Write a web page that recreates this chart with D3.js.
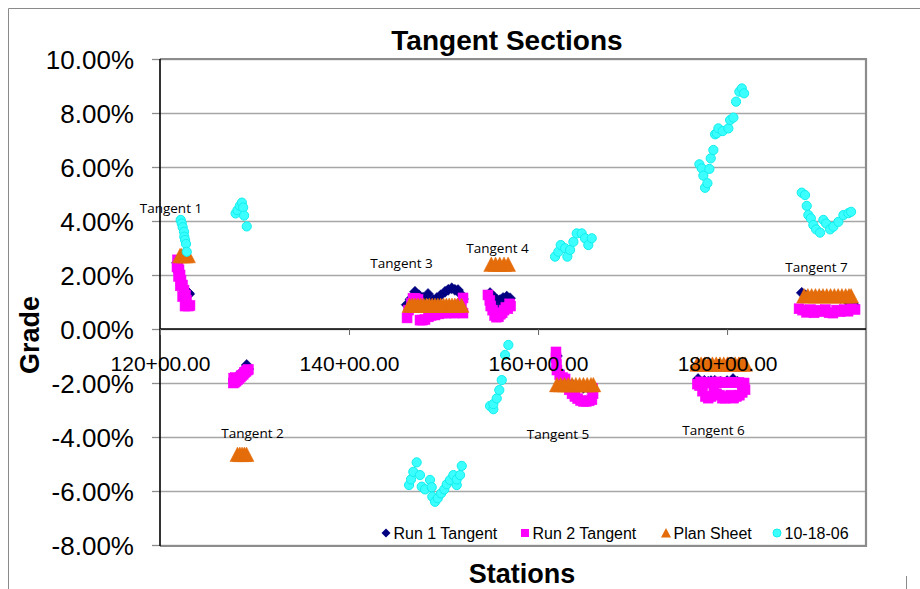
<!DOCTYPE html>
<html>
<head>
<meta charset="utf-8">
<script src="https://cdn.jsdelivr.net/npm/d3@7"></script>
<style>
  body { margin: 0; background: #fff; }
  svg { display: block; font-family: "Liberation Sans", Arial, sans-serif; }
</style>
</head>
<body>
<svg id="chart" width="920" height="589"></svg>
<script>
// ---- Data: station (ft) vs grade (%) ----
const xTickStations = [12000, 14000, 16000, 18000];
const yTickGrades = [-8, -6, -4, -2, 0, 2, 4, 6, 8, 10];
const seriesNames = ["Run 1 Tangent", "Run 2 Tangent", "Plan Sheet", "10-18-06"];

const run1Tangent = [
  [12180, 2.45], [12200, 2.10], [12225, 1.75], [12250, 1.50], [12275, 1.38], [12300, 1.34], [12310, 1.30],
  [12780, -1.85], [12820, -1.75], [12860, -1.62], [12895, -1.50], [12917, -1.33], [12935, -1.48],
  [14610, 0.90], [14650, 1.10], [14698, 1.38], [14740, 1.25], [14783, 1.16], [14836, 1.30], [14889, 1.07],
  [14930, 1.15], [14970, 1.25], [15016, 1.38], [15050, 1.45], [15087, 1.51], [15120, 1.45], [15153, 1.44],
  [15180, 1.30], [15206, 1.11],
  [15492, 1.33], [15520, 0.90], [15530, 1.20], [15560, 1.10], [15598, 1.07], [15600, 0.80], [15630, 1.15],
  [15669, 1.20], [15704, 1.14],
  [16200, -1.00], [16250, -1.75], [16300, -1.95], [16360, -2.05], [16420, -2.15], [16480, -2.18],
  [16540, -2.22], [16590, -2.26],
  [17693, -1.85], [17760, -1.92], [17800, -1.95], [17830, -1.93], [17870, -1.92], [17930, -1.95],
  [18000, -1.93], [18063, -1.85], [18110, -1.95], [18159, -2.07],
  [18790, 1.34], [18830, 1.25], [18900, 1.20], [19000, 1.20], [19100, 1.20], [19200, 1.15], [19280, 1.00],
  [19318, 0.78], [19340, 0.90]
];

const run2Tangent = [
  [12185, 2.56], [12190, 2.37], [12201, 2.19], [12212, 2.00], [12222, 1.81], [12238, 1.63], [12254, 1.44],
  [12270, 1.26], [12280, 1.07], [12286, 0.89], [12300, 0.85], [12317, 0.87], [12265, 0.85], [12180, 2.30],
  [12196, 1.95], [12215, 1.60], [12240, 1.20],
  [12775, -2.00], [12790, -1.97], [12805, -1.93], [12820, -1.88], [12835, -1.83], [12850, -1.78],
  [12865, -1.72], [12880, -1.68], [12895, -1.62], [12910, -1.57], [12925, -1.52], [12935, -1.50],
  [12780, -1.82], [12800, -1.80],
  [14614, 0.41], [14630, 0.70], [14660, 0.95], [14677, 1.14], [14700, 1.14], [14730, 1.10], [14751, 0.33],
  [14780, 0.33], [14804, 0.35], [14840, 0.45], [14870, 0.50], [14910, 0.52], [14950, 0.56], [14990, 0.59],
  [15030, 0.59], [15070, 0.60], [15110, 0.59], [15150, 0.60], [15180, 0.62], [15206, 0.59], [15206, 1.15],
  [15190, 0.90],
  [15470, 1.26], [15490, 1.05], [15500, 0.85], [15520, 0.70], [15540, 0.50], [15560, 0.44], [15580, 0.45],
  [15600, 0.55], [15620, 0.60], [15640, 0.70], [15660, 0.80], [15680, 0.75], [15700, 0.93], [15710, 0.85],
  [16190, -0.85], [16190, -1.07], [16195, -1.30], [16200, -1.52], [16230, -1.70], [16260, -1.80],
  [16286, -1.85], [16300, -2.10], [16330, -2.25], [16360, -2.40], [16390, -2.50], [16420, -2.58],
  [16450, -2.65], [16480, -2.68], [16510, -2.68], [16540, -2.66], [16570, -2.62], [16582, -2.40], [16578, -2.20],
  [17685, -2.04], [17710, -2.10], [17720, -1.96], [17740, -2.30], [17750, -1.98], [17770, -2.50],
  [17785, -1.98], [17800, -2.56], [17815, -2.00], [17830, -2.50], [17850, -1.98], [17860, -2.35],
  [17885, -1.99], [17890, -2.40], [17900, -1.96], [17920, -2.45], [17945, -1.98], [17950, -2.56],
  [17980, -2.56], [17985, -1.99], [18010, -2.50], [18020, -1.97], [18040, -2.45], [18050, -1.98],
  [18070, -2.56], [18090, -1.99], [18100, -2.50], [18125, -1.98], [18130, -2.45], [18160, -2.35],
  [18160, -2.02], [18180, -2.00], [18190, -2.25],
  [18762, 0.75], [18800, 0.70], [18840, 0.62], [18880, 0.72], [18920, 0.60], [18960, 0.70], [19000, 0.64],
  [19040, 0.72], [19080, 0.60], [19120, 0.59], [19160, 0.70], [19200, 0.64], [19240, 0.72], [19280, 0.66],
  [19320, 0.75], [19354, 0.72]
];

const planSheet = [
  [12212, 2.71], [12230, 2.71], [12250, 2.71], [12270, 2.71], [12296, 2.71],
  [12820, -4.65], [12845, -4.65], [12868, -4.65], [12892, -4.65], [12915, -4.65],
  [14640, 0.87], [14670, 0.87], [14700, 0.87], [14730, 0.87], [14760, 0.87], [14790, 0.87], [14820, 0.87],
  [14850, 0.87], [14880, 0.87], [14910, 0.87], [14940, 0.87], [14970, 0.87], [15000, 0.87], [15030, 0.87],
  [15060, 0.87], [15090, 0.87], [15120, 0.87], [15150, 0.87], [15190, 0.87],
  [15505, 2.39], [15550, 2.39], [15595, 2.39], [15640, 2.39], [15683, 2.39],
  [16200, -2.07], [16240, -2.07], [16280, -2.07], [16320, -2.07], [16360, -2.07], [16400, -2.07],
  [16440, -2.07], [16480, -2.07], [16520, -2.07], [16560, -2.07], [16585, -2.07],
  [17685, -1.31], [17725, -1.31], [17765, -1.31], [17805, -1.31], [17845, -1.31], [17885, -1.31],
  [17925, -1.31], [17965, -1.31], [18005, -1.31], [18045, -1.31], [18085, -1.31], [18125, -1.31],
  [18165, -1.31], [18190, -1.31],
  [18815, 1.22], [18855, 1.22], [18895, 1.22], [18935, 1.22], [18975, 1.22], [19015, 1.22], [19055, 1.22],
  [19095, 1.22], [19135, 1.22], [19175, 1.22], [19215, 1.22], [19255, 1.22], [19290, 1.22], [19312, 1.22]
];

const survey101806 = [
  [12219, 4.04], [12230, 3.91], [12240, 3.77], [12254, 3.60], [12257, 3.42], [12265, 3.30], [12275, 3.15],
  [12283, 2.86],
  [12800, 4.28], [12820, 4.40], [12845, 4.56], [12866, 4.68], [12880, 4.50], [12890, 4.20], [12918, 3.80],
  [14635, -5.78], [14656, -5.57], [14680, -5.29], [14716, -4.94], [14751, -5.41], [14769, -5.84],
  [14804, -5.94], [14857, -5.59], [14875, -5.86], [14881, -6.21], [14910, -6.40], [14939, -6.27],
  [14974, -6.09], [15008, -5.94], [15034, -5.75], [15069, -5.59], [15104, -5.41], [15140, -5.78],
  [15140, -5.57], [15175, -5.41], [15193, -5.07],
  [15492, -2.85], [15527, -2.97], [15527, -2.78], [15563, -2.57], [15590, -2.26], [15616, -1.89],
  [15651, -0.96], [15686, -0.59],
  [16180, 2.68], [16215, 2.86], [16240, 3.11], [16286, 2.99], [16310, 2.68], [16339, 2.93], [16374, 3.23],
  [16409, 3.54], [16462, 3.54], [16497, 3.36], [16532, 3.11], [16568, 3.36],
  [17707, 6.10], [17732, 5.95], [17749, 5.68], [17767, 5.23], [17792, 5.40], [17813, 5.93], [17827, 6.32],
  [17855, 6.63], [17873, 7.21], [17891, 7.25], [17908, 7.43], [17954, 7.33], [18014, 7.43], [18032, 7.74],
  [18067, 7.83], [18095, 8.42], [18130, 8.79], [18156, 8.91], [18180, 8.73],
  [18790, 5.05], [18825, 4.96], [18843, 4.56], [18860, 4.22], [18886, 4.10], [18913, 3.85], [18942, 3.69],
  [18984, 3.57], [19019, 4.04], [19048, 3.91], [19090, 3.69], [19125, 3.79], [19178, 3.97], [19231, 4.22],
  [19284, 4.29], [19312, 4.34]
];

// Tangent callouts, anchored at (station, grade)
const tangentLabels = ["Tangent 1", "Tangent 2", "Tangent 3", "Tangent 4", "Tangent 5", "Tangent 6", "Tangent 7"];
const tangentStations = [12116, 12979, 14556, 15571, 16212, 17857, 18947];
const tangentGrades = [4.30, -4.04, 2.26, 2.81, -4.07, -3.93, 2.12];

// ---- Layout ----
const plot = { left: 160, right: 866, top: 59, bottom: 545 };
const svg = d3.select("#chart");

const x = d3.scaleLinear().domain([12000, 19470]).range([plot.left, plot.right]);
const y = d3.scaleLinear().domain([-8, 10]).range([plot.bottom, plot.top]);

const fmtStation = s => Math.floor(s / 100) + "+" + (s % 100).toFixed(2).padStart(5, "0");
const fmtGrade = g => g.toFixed(2) + "%";

// Outer chart frame
svg.append("path")
  .attr("d", "M8.5,589V8.5H920")
  .attr("fill", "none").attr("stroke", "#8a8a8a").attr("stroke-width", 1);
svg.append("line")
  .attr("x1", 906.5).attr("x2", 906.5).attr("y1", 576).attr("y2", 589)
  .attr("stroke", "#8a8a8a").attr("stroke-width", 1);

// Horizontal gridlines
const grid = svg.append("g")
  .attr("transform", `translate(${plot.left},0)`)
  .call(d3.axisLeft(y).tickValues(yTickGrades).tickSize(-(plot.right - plot.left)).tickFormat(""));
grid.select(".domain").remove();
grid.selectAll(".tick line").attr("stroke", "#a6a6a6").attr("stroke-width", 1.3);

// Plot area border
svg.append("path")
  .attr("d", `M${plot.left},${plot.top}H${plot.right}V${plot.bottom + 1}H${plot.left}`)
  .attr("fill", "none").attr("stroke", "#8c8c8c").attr("stroke-width", 2.2);

// Y axis: ticks and labels
const yAxis = svg.append("g")
  .attr("transform", `translate(${plot.left},0)`)
  .call(d3.axisLeft(y).tickValues(yTickGrades).tickSize(8).tickPadding(18).tickFormat(fmtGrade));
yAxis.select(".domain").remove();
yAxis.selectAll(".tick line").attr("stroke", "#8c8c8c").attr("stroke-width", 1.3);
yAxis.selectAll(".tick text")
  .attr("font-family", "'Liberation Sans', Arial, sans-serif")
  .attr("font-size", 26).attr("fill", "#000").attr("dy", "0.36em");

// Axis lines
svg.append("line")
  .attr("x1", plot.left).attr("x2", plot.left).attr("y1", plot.top).attr("y2", plot.bottom + 1)
  .attr("stroke", "#000").attr("stroke-width", 1.6);
svg.append("line")
  .attr("x1", plot.left).attr("x2", plot.right).attr("y1", y(0)).attr("y2", y(0))
  .attr("stroke", "#000").attr("stroke-width", 1.6);

// Marker shapes
const diamondPath = "M0,-5.5L5.5,0L0,5.5L-5.5,0Z";
const trianglePath = "M0,-7.5L7.5,7L-7.5,7Z";

// Run 1 Tangent (navy diamonds)
svg.append("g").selectAll("path").data(run1Tangent).join("path")
  .attr("d", diamondPath)
  .attr("transform", d => `translate(${x(d[0])},${y(d[1])})`)
  .attr("fill", "#000080").attr("stroke", "#000080").attr("stroke-width", 0.5);

// Run 2 Tangent (magenta squares)
svg.append("g").selectAll("rect").data(run2Tangent).join("rect")
  .attr("x", d => x(d[0]) - 5).attr("y", d => y(d[1]) - 5)
  .attr("width", 10).attr("height", 10)
  .attr("fill", "#FF00FF").attr("stroke", "#FF00FF").attr("stroke-width", 0.5);

// Plan Sheet (orange triangles)
svg.append("g").selectAll("path").data(planSheet).join("path")
  .attr("d", trianglePath)
  .attr("transform", d => `translate(${x(d[0])},${y(d[1])})`)
  .attr("fill", "#E46C0A").attr("stroke", "#E46C0A").attr("stroke-width", 0.5);

// 10-18-06 survey (cyan circles)
svg.append("g").selectAll("circle").data(survey101806).join("circle")
  .attr("cx", d => x(d[0])).attr("cy", d => y(d[1])).attr("r", 4.6)
  .attr("fill", "#3CFFFF").attr("stroke", "#12EEEE").attr("stroke-width", 1);

// X axis tick marks and station labels (drawn above the marks)
const xAxis = svg.append("g")
  .attr("transform", `translate(0,${y(0)})`)
  .call(d3.axisBottom(x).tickValues(xTickStations).tickSize(6).tickFormat(fmtStation));
xAxis.select(".domain").remove();
xAxis.selectAll(".tick line").attr("stroke", "#666").attr("stroke-width", 1);
xAxis.selectAll(".tick text")
  .attr("font-family", "'Liberation Sans', Arial, sans-serif")
  .attr("font-size", 21).attr("fill", "#000")
  .attr("y", 42).attr("dy", 0);

// Tangent callouts
svg.append("g").selectAll("text").data(tangentLabels).join("text")
  .attr("x", (d, i) => x(tangentStations[i]))
  .attr("y", (d, i) => y(tangentGrades[i]))
  .attr("text-anchor", "middle")
  .attr("font-family", "'Open Sans', 'Noto Sans', sans-serif")
  .attr("font-size", 13.5).attr("fill", "#000")
  .text(d => d);

// Titles
svg.append("text")
  .attr("x", 507).attr("y", 50).attr("text-anchor", "middle")
  .attr("font-weight", "bold").attr("font-size", 28)
  .text("Tangent Sections");
svg.append("text")
  .attr("transform", "translate(39,335) rotate(-90)").attr("text-anchor", "middle")
  .attr("font-weight", "bold").attr("font-size", 27)
  .text("Grade");
svg.append("text")
  .attr("x", 522).attr("y", 583).attr("text-anchor", "middle")
  .attr("font-weight", "bold").attr("font-size", 27)
  .text("Stations");

// Legend
const legendX = [386, 525, 666, 777];
const legendY = 533;
const legend = svg.append("g").selectAll("g").data(seriesNames).join("g")
  .attr("transform", (d, i) => `translate(${legendX[i]},${legendY})`);
legend.each(function (d, i) {
  const g = d3.select(this);
  if (i === 0) g.append("path").attr("d", "M0,-4.5L4.5,0L0,4.5L-4.5,0Z").attr("fill", "#000080");
  if (i === 1) g.append("rect").attr("x", -4).attr("y", -4).attr("width", 8).attr("height", 8).attr("fill", "#FF00FF");
  if (i === 2) g.append("path").attr("d", "M0,-5L5,4.5L-5,4.5Z").attr("fill", "#E46C0A");
  if (i === 3) g.append("circle").attr("r", 4).attr("fill", "#3CFFFF").attr("stroke", "#12EEEE");
  g.append("text").attr("x", 7.5).attr("y", 5.5)
    .attr("font-size", 16).attr("fill", "#000").text(d);
});
</script>
</body>
</html>
